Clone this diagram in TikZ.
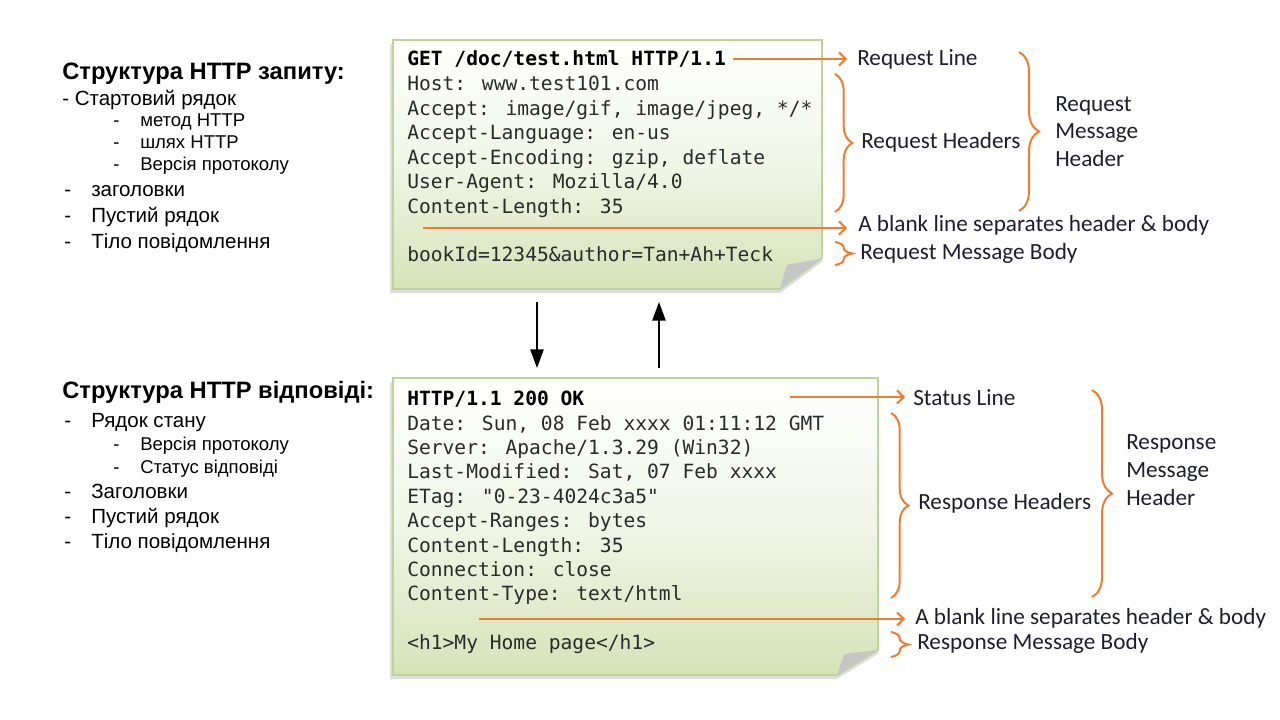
\documentclass[tikz,border=0pt]{standalone}
\usepackage{fontspec}
\setmainfont{Liberation Sans}
\newfontfamily\labelfont{Carlito}
\newfontfamily\codefont{DejaVu Sans Mono}
\usetikzlibrary{decorations.pathreplacing,arrows.meta}

\definecolor{accent}{HTML}{ED7D31}
\definecolor{paperlow}{HTML}{D5E3B8}
\definecolor{paperedge}{HTML}{BFD396}
\definecolor{foldgray}{HTML}{C6C6C6}
\definecolor{codeink}{HTML}{2A2A2A}
\definecolor{labelink}{HTML}{1E1E2E}

\tikzset{
  code/.style={anchor=base west,inner sep=0pt,text=codeink,font=\codefont\fontsize{14.7pt}{17pt}\selectfont},
  codebold/.style={code,font=\codefont\bfseries\fontsize{14.7pt}{17pt}\selectfont,text=black},
  tag/.style={anchor=base west,inner sep=0pt,text=labelink,font=\labelfont\fontsize{17.4pt}{20pt}\selectfont},
  heading/.style={anchor=base west,inner sep=0pt,font=\bfseries\fontsize{17.8pt}{21pt}\selectfont},
  item/.style={anchor=base west,inner sep=0pt,font=\fontsize{15.4pt}{18pt}\selectfont},
  subitem/.style={anchor=base west,inner sep=0pt,font=\fontsize{13.9pt}{16pt}\selectfont},
  pointer/.style={draw=accent,line width=1.5pt,-{Straight Barb[length=5pt,width=10pt,line width=1.5pt]}},
  curly/.style={draw=accent,line width=1.5pt,decorate,decoration={brace,amplitude=#1}},
  curly/.default=13pt,
  flow/.style={draw=black,line width=1.1pt,-{Triangle[length=14pt,width=10pt]}},
  papershadow/.style={fill=black!25,opacity=0.5},
  paper/.style={top color=white,bottom color=paperlow,middle color=paperlow!35},
  paperline/.style={draw=paperedge,line width=1.3pt},
}

\begin{document}
\begin{tikzpicture}[x=0.75pt,y=-0.75pt]
\useasboundingbox[fill=white] (0,0) rectangle (1280,720);

% ---------- left column: outline of both messages ----------
\node[heading] (qtitle) at (62,79.5) {Структура HTTP запиту:};
\node[item] (q1) at (62,105.5) {- Стартовий рядок};
\node[subitem] (q1d1) at (113,127) {-};
\node[subitem] (q1a) at (140,127) {метод HTTP};
\node[subitem] (q1d2) at (113,149) {-};
\node[subitem] (q1b) at (140,149) {шлях HTTP};
\node[subitem] (q1d3) at (113,171) {-};
\node[subitem] (q1c) at (140,171) {Версія протоколу};
\node[item] (q2d) at (64,196.5) {-};
\node[item] (q2) at (91,196.5) {заголовки};
\node[item] (q3d) at (64,222.5) {-};
\node[item] (q3) at (91,222.5) {Пустий рядок};
\node[item] (q4d) at (64,248.5) {-};
\node[item] (q4) at (91,248.5) {Тіло повідомлення};

\node[heading] (rtitle) at (62,398.5) {Структура HTTP відповіді:};
\node[item] (r1d) at (64,427.5) {-};
\node[item] (r1) at (91,427.5) {Рядок стану};
\node[subitem] (r1d1) at (113,450) {-};
\node[subitem] (r1a) at (140,450) {Версія протоколу};
\node[subitem] (r1d2) at (113,473) {-};
\node[subitem] (r1b) at (140,473) {Статус відповіді};
\node[item] (r2d) at (64,498.5) {-};
\node[item] (r2) at (91,498.5) {Заголовки};
\node[item] (r3d) at (64,523.5) {-};
\node[item] (r3) at (91,523.5) {Пустий рядок};
\node[item] (r4d) at (64,548.5) {-};
\node[item] (r4) at (91,548.5) {Тіло повідомлення};

% ---------- request sheet ----------
\fill[papershadow] (390,44) -- (822,44) -- (822,262) -- (780,293) -- (390,293) -- cycle;
\path[paper] (393,40) -- (822,40) -- (822,258) -- (780,289) -- (393,289) -- cycle;
\draw[paperline] (393,40) -- (822,40) -- (822,258) -- (780,289) -- (393,289) -- cycle;
\fill[foldgray] (822,258) -- (780,289) .. controls (783,278) and (785,270) .. (787,265) .. controls (800,262) and (812,261) .. (822,258) -- cycle;

\node[codebold] (q0) at (407,66) {GET /doc/test.html HTTP/1.1};
\node[code] (qh1) at (407,90.8) {Host: www.test101.com};
\node[code] (qh2) at (407,115.3) {Accept: image/gif, image/jpeg, */*};
\node[code] (qh3) at (407,139.8) {Accept-Language: en-us};
\node[code] (qh4) at (407,164.3) {Accept-Encoding: gzip, deflate};
\node[code] (qh5) at (407,188.8) {User-Agent: Mozilla/4.0};
\node[code] (qh6) at (407,213.3) {Content-Length: 35};
\node[code] (qb) at (407,262) {bookId=12345\&author=Tan+Ah+Teck};

% ---------- response sheet ----------
\fill[papershadow] (390,382) -- (878,382) -- (878,654) -- (837,679) -- (390,679) -- cycle;
\path[paper] (393,378) -- (878,378) -- (878,650) -- (837,675) -- (393,675) -- cycle;
\draw[paperline] (393,378) -- (878,378) -- (878,650) -- (837,675) -- (393,675) -- cycle;
\fill[foldgray] (878,650) -- (837,675) .. controls (840,666) and (842,659) .. (845,654) .. controls (858,652) and (868,651) .. (878,650) -- cycle;

\node[codebold] (s0) at (407,405) {HTTP/1.1 200 OK};
\node[code] (sh1) at (407,430) {Date: Sun, 08 Feb xxxx 01:11:12 GMT};
\node[code] (sh2) at (407,454.4) {Server: Apache/1.3.29 (Win32)};
\node[code] (sh3) at (407,478.8) {Last-Modified: Sat, 07 Feb xxxx};
\node[code] (sh4) at (407,503.2) {ETag: "0-23-4024c3a5"};
\node[code] (sh5) at (407,527.6) {Accept-Ranges: bytes};
\node[code] (sh6) at (407,552) {Content-Length: 35};
\node[code] (sh7) at (407,576.4) {Connection: close};
\node[code] (sh8) at (407,600.8) {Content-Type: text/html};
\node[code] (sb) at (407,649.6) {<h1>My Home page</h1>};

% ---------- request annotations ----------
\node[tag] (tline) at (857,66) {Request Line};
\node[tag] (thead) at (861,148.5) {Request Headers};
\node[tag,align=left,anchor=north west,font=\labelfont\fontsize{17.4pt}{20.5pt}\selectfont] (tmsg) at (1055,96.5) {Request\\Message\\Header};
\node[tag] (tblank) at (858,232) {A blank line separates header \& body};
\node[tag] (tbody) at (860,259) {Request Message Body};

\coordinate (qlineend) at (733,59);
\coordinate (qlinetip) at (847,59);
\coordinate (qblank) at (423,228);
\coordinate (qblanktip) at (847,228);
\draw[pointer] (qlineend) -- (qlinetip);
\draw[pointer] (qblank) -- (qblanktip);
\draw[curly] (835,74) -- (835,212);
\draw[curly] (835,242) -- (835,265);
\draw[curly=15pt] (1019,52) -- (1019,211);

% ---------- response annotations ----------
\node[tag] (sline) at (913,405) {Status Line};
\node[tag] (shead) at (918,509.5) {Response Headers};
\node[tag,align=left,anchor=north west,font=\labelfont\fontsize{17.4pt}{21pt}\selectfont] (smsg) at (1126,434) {Response\\Message\\Header};
\node[tag] (sblank) at (915,624.5) {A blank line separates header \& body};
\node[tag] (sbody) at (917,649.5) {Response Message Body};

\coordinate (slineend) at (790,397);
\coordinate (slinetip) at (905,397);
\coordinate (sblank0) at (479,619);
\coordinate (sblanktip) at (905,619);
\draw[pointer] (slineend) -- (slinetip);
\draw[pointer] (sblank0) -- (sblanktip);
\draw[curly] (891,413) -- (891,598);
\draw[curly] (891,632) -- (891,657);
\draw[curly=15pt] (1092,390) -- (1092,597);

% ---------- exchange between the sheets ----------
\coordinate (downfrom) at (537,302);
\coordinate (downto) at (537,368);
\coordinate (upfrom) at (659,368);
\coordinate (upto) at (659,302);
\draw[flow] (downfrom) -- (downto);
\draw[flow] (upfrom) -- (upto);
\end{tikzpicture}
\end{document}
